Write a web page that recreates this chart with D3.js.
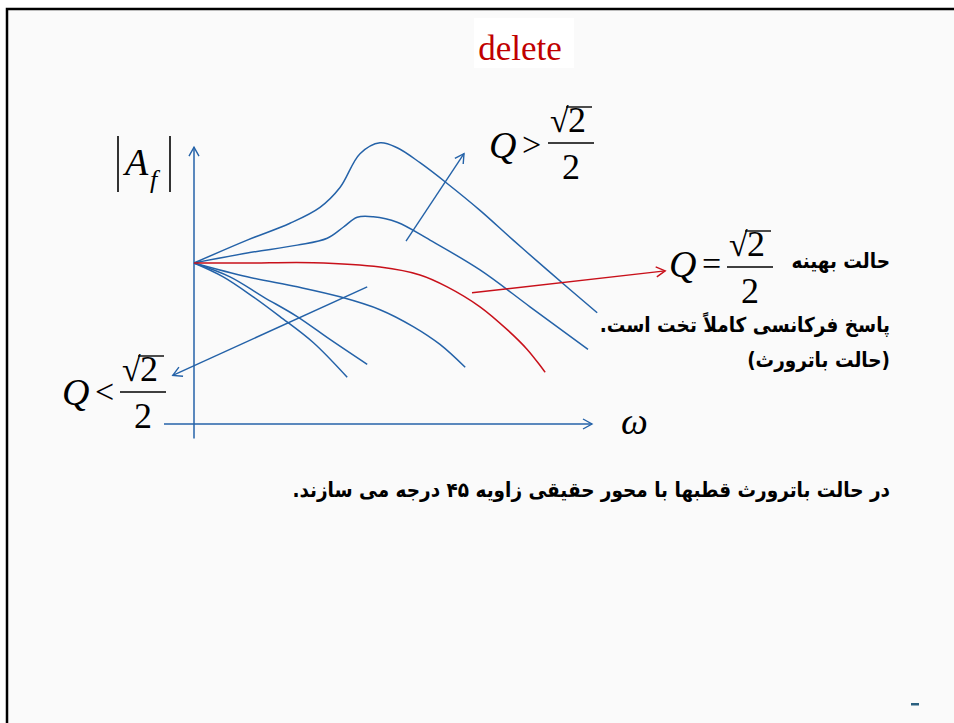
<!DOCTYPE html>
<html>
<head>
<meta charset="utf-8">
<script src="https://cdn.jsdelivr.net/npm/d3@7"></script>
<style>
  body { margin: 0; background: #fff; }
  svg { display: block; }
  .math { font-family: "Liberation Serif", "Times New Roman", serif; fill: #000; }
  .fa { font-family: "DejaVu Sans Condensed", "DejaVu Sans", sans-serif; font-stretch: condensed; font-weight: bold; fill: #000; }
</style>
</head>
<body>
<script>
var w = 954;
var h = 723;

// response curves: [omega, |Af|], omega normalised so 1 is the axis end
var curveHigh = [[0, 1], [0.133, 1.142], [0.24, 1.247], [0.315, 1.346], [0.365, 1.469], [0.415, 1.679],
    [0.465, 1.747], [0.508, 1.716], [0.565, 1.623], [0.633, 1.494], [0.715, 1.327], [0.798, 1.142],
    [0.883, 0.957], [1.008, 0.691]];
var curveMid = [[0, 1], [0.133, 1.062], [0.258, 1.111], [0.333, 1.154], [0.373, 1.222], [0.408, 1.284],
    [0.448, 1.287], [0.508, 1.253], [0.59, 1.142], [0.715, 0.957], [0.84, 0.728], [0.985, 0.463]];
var curveButter = [[0, 1], [0.133, 1.0], [0.298, 1.002], [0.465, 0.975], [0.565, 0.926], [0.633, 0.852],
    [0.715, 0.728], [0.783, 0.586], [0.833, 0.463], [0.878, 0.321]];
var curveLow1 = [[0, 1], [0.133, 0.914], [0.258, 0.852], [0.365, 0.79], [0.465, 0.71], [0.548, 0.605],
    [0.615, 0.494], [0.678, 0.352]];
var curveLow2 = [[0, 1], [0.09, 0.914], [0.173, 0.79], [0.258, 0.667], [0.34, 0.525], [0.433, 0.37]];
var curveLow3 = [[0, 1], [0.073, 0.914], [0.148, 0.79], [0.215, 0.667], [0.298, 0.506], [0.383, 0.29]];

var blueCurves = [curveHigh, curveMid, curveLow1, curveLow2, curveLow3];

// annotation arrows: [from, to] in the same units
var arrowUp = [[0.53, 1.136], [0.675, 1.679]];
var arrowButter = [[0.695, 0.815], [1.178, 0.951]];
var arrowDown = [[0.433, 0.852], [-0.053, 0.302]];

var blue = "#2462a8";
var red = "#c8101a";

var xScale = d3.scaleLinear().domain([0, 1]).range([194, 594]);
var yScale = d3.scaleLinear().domain([0, 1]).range([424, 263]);

var svg = d3.select("body")
    .append("svg")
    .attr("width", w)
    .attr("height", h);

// slide frame
svg.append("rect")
    .attr("x", 7).attr("y", 9)
    .attr("width", w).attr("height", h)
    .attr("fill", "#fafafa")
    .attr("stroke", "#000")
    .attr("stroke-width", 2.5);

// title
svg.append("rect")
    .attr("x", 474).attr("y", 18)
    .attr("width", 100).attr("height", 50)
    .attr("fill", "#fff");
svg.append("text")
    .attr("class", "math")
    .attr("x", 520).attr("y", 60)
    .attr("text-anchor", "middle")
    .attr("font-size", 35)
    .style("fill", "#c00000")
    .text("delete");

var defs = svg.append("defs");
[["headBlue", blue], ["headRed", red]].forEach(m => {
    defs.append("marker")
        .attr("id", m[0])
        .attr("viewBox", "-10 -6 12 12")
        .attr("refX", 0).attr("refY", 0)
        .attr("markerWidth", 12).attr("markerHeight", 12)
        .attr("markerUnits", "userSpaceOnUse")
        .attr("orient", "auto")
        .append("path")
        .attr("d", "M-9,-5 L0,0 L-9,5")
        .attr("fill", "none")
        .attr("stroke", m[1])
        .attr("stroke-width", 1.4);
});

var line = d3.line()
    .x(d => xScale(d[0]))
    .y(d => yScale(d[1]))
    .curve(d3.curveCatmullRom.alpha(0.5));

// axes
var axes = [
    [[0, -0.09], [0, 1.72]],
    [[-0.075, 0], [0.995, 0]]
];
svg.selectAll(".axis")
    .data(axes)
    .enter()
    .append("path")
    .attr("class", "axis")
    .attr("d", d3.line().x(d => xScale(d[0])).y(d => yScale(d[1])))
    .attr("fill", "none")
    .attr("stroke", blue)
    .attr("stroke-width", 1.5)
    .attr("marker-end", "url(#headBlue)");

svg.selectAll(".curve")
    .data(blueCurves)
    .enter()
    .append("path")
    .attr("class", "curve")
    .attr("d", line)
    .attr("fill", "none")
    .attr("stroke", blue)
    .attr("stroke-width", 1.5);

svg.append("path")
    .attr("d", line(curveButter))
    .attr("fill", "none")
    .attr("stroke", red)
    .attr("stroke-width", 1.5);

var straight = d3.line().x(d => xScale(d[0])).y(d => yScale(d[1]));
[[arrowUp, blue, "headBlue"], [arrowDown, blue, "headBlue"], [arrowButter, red, "headRed"]].forEach(a => {
    svg.append("path")
        .attr("d", straight(a[0]))
        .attr("fill", "none")
        .attr("stroke", a[1])
        .attr("stroke-width", 1.4)
        .attr("marker-end", "url(#" + a[2] + ")");
});

// |A_f|
var mag = svg.append("g").attr("class", "math");
mag.selectAll("line")
    .data([118, 170])
    .enter()
    .append("line")
    .attr("x1", d => d).attr("x2", d => d)
    .attr("y1", 136).attr("y2", 192)
    .attr("stroke", "#000")
    .attr("stroke-width", 1.6);
mag.append("text").attr("x", 125).attr("y", 175)
    .attr("font-size", 38).attr("font-style", "italic").text("A");
mag.append("text").attr("x", 150).attr("y", 188)
    .attr("font-size", 26).attr("font-style", "italic").text("f");

svg.append("text")
    .attr("class", "math")
    .attr("x", 621).attr("y", 434)
    .attr("font-size", 38).attr("font-style", "italic")
    .text("\u03c9");

// Q relation with sqrt(2)/2
function qLabel(x, base, op, opX, barX, barY) {
    var g = svg.append("g").attr("class", "math");
    g.append("text").attr("x", x).attr("y", base)
        .attr("font-size", 38).attr("font-style", "italic").text("Q");
    g.append("text").attr("x", opX).attr("y", base - 2)
        .attr("font-size", 34).text(op);
    g.append("line")
        .attr("x1", barX).attr("x2", barX + 46)
        .attr("y1", barY).attr("y2", barY)
        .attr("stroke", "#000").attr("stroke-width", 1.5);
    g.append("text").attr("x", barX + 2).attr("y", barY - 11)
        .attr("font-size", 34).text("\u221a");
    g.append("text").attr("x", barX + 20).attr("y", barY - 11)
        .attr("font-size", 36).text("2");
    g.append("line")
        .attr("x1", barX + 18).attr("x2", barX + 44)
        .attr("y1", barY - 36).attr("y2", barY - 36)
        .attr("stroke", "#000").attr("stroke-width", 1.4);
    g.append("text").attr("x", barX + 23).attr("y", barY + 36)
        .attr("text-anchor", "middle")
        .attr("font-size", 36).text("2");
}
qLabel(489, 158, ">", 522, 548, 143);
qLabel(669, 277, "=", 702, 727, 267);
qLabel(62, 405, "<", 95, 120, 392);

// persian notes
var notes = [
    ["\u062d\u0627\u0644\u062a \u0628\u0647\u06cc\u0646\u0647", 268],
    ["\u067e\u0627\u0633\u062e \u0641\u0631\u06a9\u0627\u0646\u0633\u06cc \u06a9\u0627\u0645\u0644\u0627\u064b \u062a\u062e\u062a \u0627\u0633\u062a.", 332],
    ["(\u062d\u0627\u0644\u062a \u0628\u0627\u062a\u0631\u0648\u0631\u062b)", 367],
    ["\u062f\u0631 \u062d\u0627\u0644\u062a \u0628\u0627\u062a\u0631\u0648\u0631\u062b \u0642\u0637\u0628\u0647\u0627 \u0628\u0627 \u0645\u062d\u0648\u0631 \u062d\u0642\u06cc\u0642\u06cc \u0632\u0627\u0648\u06cc\u0647 \u06f4\u06f5 \u062f\u0631\u062c\u0647 \u0645\u06cc \u0633\u0627\u0632\u0646\u062f.", 497]
];
svg.selectAll(".fa")
    .data(notes)
    .enter()
    .append("text")
    .attr("class", "fa")
    .attr("x", 890)
    .attr("y", d => d[1])
    .attr("direction", "rtl")
    .attr("text-anchor", "start")
    .attr("font-size", 20.5)
    .text(d => d[0]);

svg.append("rect")
    .attr("x", 911).attr("y", 703)
    .attr("width", 8).attr("height", 2.5)
    .attr("fill", "#2a6080");
</script>
</body>
</html>
